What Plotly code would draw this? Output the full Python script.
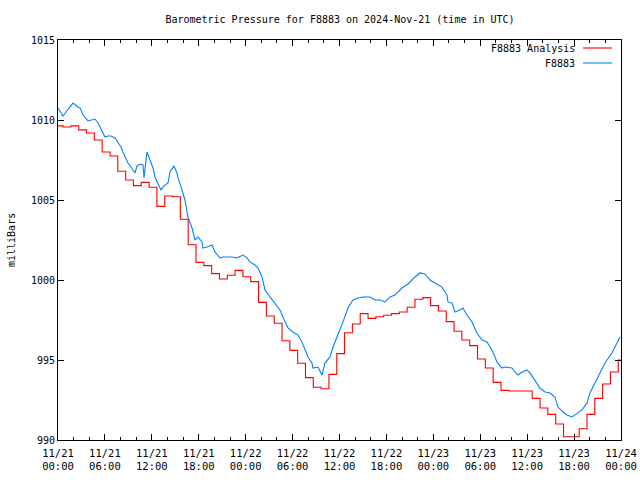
import pandas as pd
import plotly.graph_objects as go

TITLE = "Barometric Pressure for F8883 on 2024-Nov-21 (time in UTC)"
Y_TITLE = "milliBars"
SERIES_NAMES = ["F8883 Analysis", "F8883"]
START = "2024-11-21 00:00"
END = "2024-11-24 00:00"
RED_FIRST = "2024-11-20 23:39"

# F8883 observations: hours since START and pressure (mb)
blue_hours = [0.00, 0.64, 1.02, 1.92, 2.56, 2.81, 2.94, 3.20, 3.84, 4.48, 4.73, 5.12, 5.37, 5.50,
              6.01, 6.39, 6.78, 7.29, 7.67, 8.06, 8.31, 8.57, 8.95, 9.34, 9.85, 10.10, 10.49, 10.87,
              11.00, 11.25, 11.38, 11.76, 12.15, 12.40, 12.79, 13.17, 13.55, 14.07, 14.32, 14.83,
              15.22, 15.35, 15.86, 16.24, 16.62, 17.14, 17.52, 17.90, 18.41, 18.54, 19.05, 19.69,
              20.08, 20.72, 21.10, 22.25, 22.89, 23.66, 24.17, 24.55, 25.19, 25.58, 26.09, 26.47,
              27.11, 27.75, 28.39, 28.77, 29.41, 30.05, 30.69, 31.20, 31.59, 31.97, 32.48, 32.61,
              33.25, 33.76, 34.14, 34.78, 35.17, 35.81, 36.45, 37.08, 37.72, 38.36, 39.00, 39.90,
              40.54, 41.18, 41.82, 42.46, 43.09, 43.99, 44.76, 45.65, 46.29, 46.93, 47.57, 48.21,
              49.10, 49.74, 49.87, 50.38, 50.77, 51.41, 51.79, 52.30, 52.94, 53.58, 54.22, 54.86,
              55.50, 56.14, 56.78, 57.16, 58.06, 58.44, 58.82, 59.34, 59.97, 60.36, 61.00, 61.64,
              62.28, 62.92, 63.55, 63.94, 64.58, 65.09, 65.73, 66.37, 67.01, 67.65, 68.03, 68.67,
              69.31, 69.95, 70.84, 71.48, 71.87]
blue_mb = [1010.75, 1010.25, 1010.5, 1011.06, 1010.81, 1010.75, 1010.63, 1010.31, 1009.94, 1010.0,
           1010.06, 1009.81, 1009.56, 1009.5, 1008.94, 1009.0, 1009.0, 1008.88, 1008.63, 1008.31,
           1008.0, 1007.69, 1007.31, 1007.06, 1006.69, 1007.13, 1007.25, 1007.19, 1006.38, 1007.5,
           1008.0, 1007.5, 1007.0, 1006.44, 1006.06, 1005.63, 1005.88, 1006.06, 1006.75, 1007.13,
           1006.69, 1006.38, 1005.63, 1005.0, 1003.94, 1003.25, 1002.5, 1002.69, 1002.38, 1002.0,
           1002.06, 1002.19, 1001.75, 1001.38, 1001.44, 1001.44, 1001.38, 1001.56, 1001.38, 1001.13,
           1000.94, 1000.75, 1000.19, 999.38, 998.94, 998.56, 998.13, 997.69, 997.0, 996.75,
           996.56, 996.13, 995.63, 995.19, 994.81, 994.5, 994.56, 994.06, 994.81, 995.19,
           995.81, 996.56, 997.38, 998.25, 998.75, 998.88, 998.94, 998.94, 998.75, 998.75,
           998.63, 998.94, 999.06, 999.5, 999.75, 1000.19, 1000.44, 1000.38, 1000.0, 999.81,
           999.56, 999.06, 998.63, 998.56, 998.0, 998.13, 998.25, 997.81, 997.38, 996.69,
           996.25, 996.13, 995.63, 994.88, 994.5, 994.56, 994.5, 994.25, 994.06, 994.25,
           994.38, 994.19, 993.75, 993.25, 993.0, 992.94, 992.69, 992.06, 991.75, 991.56,
           991.44, 991.69, 991.88, 992.31, 992.94, 993.56, 994.19, 994.81, 995.44, 996.06,
           996.44]

# F8883 Analysis: hourly values starting at RED_FIRST
red_mb = [1009.63, 1009.56, 1009.63, 1009.38, 1009.19, 1008.75, 1008.0, 1007.75, 1006.8, 1006.25,
          1005.9, 1006.1, 1005.8, 1004.6, 1005.25, 1005.2, 1003.8, 1002.2, 1001.1, 1000.9,
          1000.4, 1000.06, 1000.3, 1000.6, 1000.2, 999.9, 998.6, 997.75, 997.3, 996.2,
          995.6, 994.8, 993.9, 993.3, 993.2, 994.1, 995.4, 996.7, 997.25, 997.9,
          997.6, 997.7, 997.8, 997.9, 998.0, 998.3, 998.8, 998.9, 998.4, 998.06,
          997.4, 996.8, 996.25, 995.9, 995.06, 994.5, 993.6, 993.1, 993.06, 993.06,
          993.06, 992.6, 992.0, 991.6, 991.0, 990.2, 990.2, 990.7, 991.6, 992.6,
          993.5, 994.25, 995.0]

Y_RANGE = [990, 1015]
Y_TICKS = [990, 995, 1000, 1005, 1010, 1015]

start = pd.Timestamp(START)
end = pd.Timestamp(END)
blue_t = start + pd.to_timedelta(blue_hours, unit="h")
red_t = list(pd.date_range(RED_FIRST, periods=len(red_mb), freq="h")) + [end]
red_y = red_mb + [red_mb[-1]]

tickvals = list(pd.date_range(start, end, freq="6h"))
ticktext = [f"{t:%m/%d}<br>{t:%H:%M}" for t in tickvals]

RED = "#ff0000"
BLUE = "#0080ff"
FONT = "DejaVu Sans Mono"

W, H = 640, 480
ML, MR, MT, MB = 58, 19, 40, 40

fig = go.Figure()
fig.add_trace(go.Scatter(x=red_t, y=red_y, mode="lines", name=SERIES_NAMES[0],
                         line=dict(color=RED, width=1.1, shape="hv")))
fig.add_trace(go.Scatter(x=blue_t, y=blue_mb, mode="lines", name=SERIES_NAMES[1],
                         line=dict(color=BLUE, width=1.1)))

fig.update_layout(
    width=W, height=H,
    margin=dict(l=ML, r=MR, t=MT, b=MB, autoexpand=False),
    paper_bgcolor="white", plot_bgcolor="white",
    showlegend=False,
    font=dict(family=FONT, size=10, color="black"),
    title=dict(text=TITLE, x=340 / W, xanchor="center", y=1 - 19 / H,
               yanchor="middle", font=dict(family=FONT, size=10, color="black")),
)
fig.update_xaxes(
    type="date", range=[start, end], tickvals=tickvals, ticktext=ticktext,
    ticks="inside", ticklen=6, tickcolor="black", showline=True, linecolor="black",
    linewidth=1, mirror="ticks", showgrid=False, zeroline=False,
    minor=dict(dtick=2 * 3600 * 1000, tick0=start, ticks="inside", ticklen=3,
               tickcolor="black", showgrid=False),
    tickfont=dict(family=FONT, size=10.5), ticklabelstandoff=3,
)
fig.update_yaxes(
    range=Y_RANGE, tickvals=Y_TICKS, ticks="inside", ticklen=6, tickcolor="black",
    showline=True, linecolor="black", linewidth=1, mirror="ticks",
    showgrid=False, zeroline=False, tickfont=dict(family=FONT, size=10),
)

# y-axis label
fig.add_annotation(text=Y_TITLE, xref="paper", yref="paper", x=0, y=0.5, xshift=-47,
                   xanchor="center", yanchor="middle",
                   textangle=-90, showarrow=False, font=dict(family=FONT, size=10))

# gnuplot-style legend: text right-aligned, line sample to its right
legend_colors = [RED, BLUE]
for i, (name, col) in enumerate(zip(SERIES_NAMES, legend_colors)):
    ypx = 48 + 15 * i
    yp = 1 - (ypx - 40) / 400
    fig.add_annotation(text=name, xref="paper", yref="paper", x=(577 - 58) / 563, y=yp,
                       xanchor="right", yanchor="middle", showarrow=False,
                       font=dict(family=FONT, size=10))
    fig.add_shape(type="line", xref="paper", yref="paper",
                  x0=(583 - 58) / 563, x1=(612 - 58) / 563, y0=yp, y1=yp,
                  line=dict(color=col, width=1.1))

fig.write_html("out.html", config={"displayModeBar": False, "staticPlot": True},
               post_script="document.body.style.margin='0';document.body.style.overflow='hidden';")
